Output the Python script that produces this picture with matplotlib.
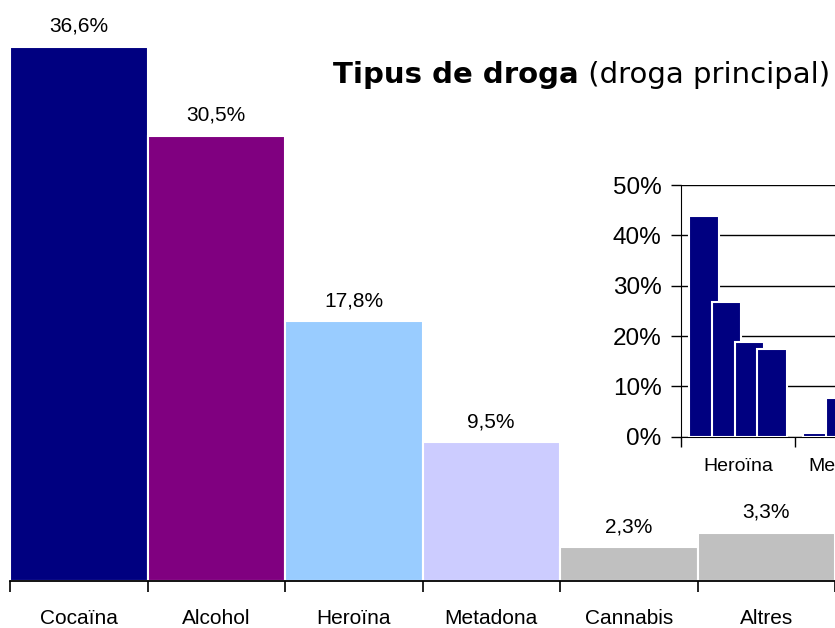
import matplotlib
matplotlib.use("Agg")
import matplotlib.pyplot as plt
import numpy as np
from matplotlib.transforms import IdentityTransform

# ---- data ----
categories = ["Cocaïna", "Alcohol", "Heroïna", "Metadona", "Cannabis", "Altres"]
values = [36.6, 30.5, 17.8, 9.5, 2.3, 3.3]
colors = ["#000080", "#800080", "#99CCFF", "#CCCCFF", "#C0C0C0", "#C0C0C0"]

inset_groups = ["Heroïna", "Metadona"]
inset_heroina = [43.8, 26.8, 18.8, 17.5]
inset_metadona = [0.7, 7.7]
inset_yticks = [0, 10, 20, 30, 40, 50]

plt.rcParams['font.family'] = ['Liberation Sans', 'DejaVu Sans']

W, H = 835, 628
fig = plt.figure(figsize=(W / 100, H / 100), dpi=100)

# ---- main chart ----
ax = fig.add_axes([10 / W, 47 / H, 825 / W, 581 / H])
centers = np.arange(len(categories)) + 0.5
ax.bar(centers, values, width=1.0, color=colors, edgecolor="white", linewidth=1.5, zorder=2)
for s in ["left", "top", "right"]:
    ax.spines[s].set_visible(False)
ax.spines["bottom"].set_color("black")
ax.spines["bottom"].set_linewidth(1.3)
ax.spines["bottom"].set_zorder(3)
ax.set_yticks([])
ax.set_xticks(np.arange(0, 7))
ax.set_xticklabels([])
ax.tick_params(axis="x", which="major", direction="out", length=8, width=1.2, color="black")
ax.set_xticks(centers, minor=True)
ax.set_xticklabels(categories, minor=True, fontsize=15)
ax.tick_params(axis="x", which="minor", length=0, pad=20)
ax.set_xlim(0, 6)
ax.set_ylim(0, 581 / 14.6)
for c, v in zip(centers, values):
    ax.annotate(f"{v:.1f}".replace(".", ",") + "%", xy=(c, v), xytext=(0, 15),
                textcoords="offset pixels", ha="center", va="baseline", fontsize=15)

# ---- inset chart ----
px_per_group = 114
iax = fig.add_axes([681 / W, 191.3 / H, (W - 681) / W, 251.7 / H])
iax.set_facecolor("none")
step = 0.2
bw = 0.26
for gi, vals in enumerate([inset_heroina, inset_metadona]):
    for k, v in enumerate(vals):
        iax.bar(gi + step * (k + 1), v, width=bw, color="#000080", edgecolor="white",
                linewidth=1.5, zorder=3 + k * 0.01)
iax.set_yticks(inset_yticks)
iax.set_yticklabels([f"{t}%" for t in inset_yticks], fontsize=17.5)
iax.yaxis.grid(True, color="black", linewidth=1.0, zorder=1)
iax.set_axisbelow(True)
for s in ["top", "right"]:
    iax.spines[s].set_visible(False)
iax.spines["left"].set_color("black")
iax.spines["bottom"].set_color("black")
iax.spines["bottom"].set_zorder(1)
iax.tick_params(axis="y", direction="out", length=7, width=1, pad=7)
iax.set_xticks([0, 1, 2])
iax.set_xticklabels([])
iax.tick_params(axis="x", which="major", direction="out", length=7, width=1)
iax.set_xlim(0, (W - 681) / px_per_group)
iax.set_ylim(0, 50)
for gi, name in enumerate(inset_groups):
    iax.annotate(name, xy=(gi + 0.5, 0), xycoords=("data", "axes fraction"),
                 xytext=(0, -21), textcoords="offset pixels", ha="center", va="top",
                 fontsize=14, annotation_clip=False)

# ---- title ----
t1 = fig.text(333, H - 83, "Tipus de droga", transform=IdentityTransform(),
              fontsize=21, fontweight="bold", family=["DejaVu Sans"], va="baseline", ha="left")
fig.canvas.draw()
bb = t1.get_window_extent()
fig.text(bb.x1, H - 83, " (droga principal)", transform=IdentityTransform(),
         fontsize=21, family=["DejaVu Sans"], va="baseline", ha="left")

fig.savefig("out.png", dpi=100)
